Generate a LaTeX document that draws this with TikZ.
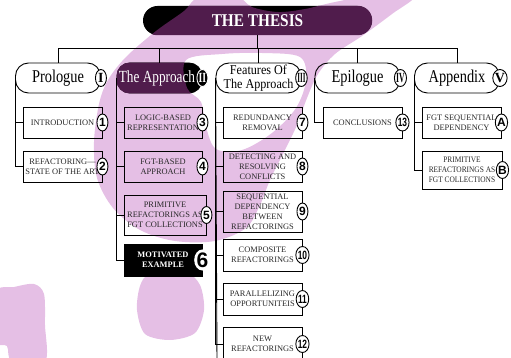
\documentclass[tikz,border=0pt]{standalone}
\usepackage{graphicx}
\usepackage{fontspec}
\setmainfont{Liberation Serif}
\newfontfamily\sansfam{Liberation Sans}
\usetikzlibrary{shapes.geometric}

\definecolor{brush}{RGB}{229,191,229}
\definecolor{plum}{RGB}{80,28,76}
\definecolor{ink}{RGB}{40,40,40}

\newcommand\leaffont{\fontsize{8.4}{10}\selectfont}
\newcommand\badgefont{\sansfam\bfseries\fontsize{12}{12}\selectfont}
\newcommand\romanfont{\bfseries\fontsize{14}{14}\selectfont}
\newcommand\headfont{\fontsize{18}{18}\selectfont}
\newcommand\sq[1]{\scalebox{0.7}[1]{#1}}
\newcommand\narrow[2]{\scalebox{#1}[1]{#2}}

% the big brush loop, with its hole
\newcommand\brushloop{plot[smooth cycle, tension=0.55] coordinates {
  (200,-4) (236,-4) (252,7) (278,12) (305,9) (335,2) (370,-4) (414,-4)
  (392,14) (362,36) (335,54) (318,74) (307,98) (297,125) (284,152)
  (270,180) (260,205) (246,228) (215,241) (175,241) (140,230) (113,208)
  (97,178) (94,142) (99,104) (108,80) (126,57) (156,31) (184,11)}
  plot[smooth cycle, tension=0.55] coordinates {
  (186,60) (222,54) (262,53) (300,57) (306,80) (296,108) (272,133)
  (242,150) (216,149) (206,127) (201,102) (187,88)}}

\tikzset{
  link/.style={draw=black, line width=0.9pt},
  head/.style={draw=black, line width=0.9pt, rounded corners=13pt,
    minimum width=85pt, minimum height=30pt, inner sep=0pt, font=\headfont},
  leaf/.style={draw=black, line width=0.9pt, inner sep=0pt,
    minimum width=79pt, minimum height=31pt, text=ink, align=center, font=\leaffont},
  badge/.style={ellipse, draw=black, line width=0.9pt, fill=white,
    minimum width=11pt, minimum height=17pt, inner sep=0pt, font=\badgefont},
  roman/.style={badge, font=\romanfont},
}

\begin{document}
\begin{tikzpicture}[x=1pt,y=-1pt]
\useasboundingbox (0,0) rectangle (511,358);
\clip (0,0) rectangle (511,358);

% brush strokes behind the chart
\fill[brush, even odd rule] \brushloop;
\fill[brush] plot[smooth cycle] coordinates {
  (150,274) (185,272) (200,285) (204,310) (195,333) (170,340)
  (145,334) (137,310) (140,286)};
\fill[brush] plot[smooth cycle] coordinates {
  (-4,292) (14,287) (34,284) (44,294) (45,325) (45,362) (12,362) (7,346) (-4,341)};

% root bar
\node[fill=black, rounded corners=14.5pt, minimum width=229pt, minimum height=29pt,
  inner sep=0pt] (thesis) at (257.5,20.5) {};
\begin{scope}
  \clip[rounded corners=14.5pt] (thesis.south west) rectangle (thesis.north east);
  \fill[plum, even odd rule] \brushloop;
\end{scope}
\node[text=white, font=\bfseries\fontsize{18}{18}\selectfont] (thesisText) at (thesis)
  {\narrow{0.85}{THE THESIS}};

% section headers
\node[head] (hP) at (58,78) {\narrow{0.8}{Prologue}};
\node[head, fill=black] (hA) at (159.5,78) {};
\begin{scope}
  \clip[rounded corners=13pt] (hA.south west) rectangle (hA.north east);
  \fill[plum, even odd rule] \brushloop;
\end{scope}
\node[text=white, font=\fontsize{17}{17}\selectfont, inner sep=0pt] (hAtext) at (157,78)
  {\narrow{0.78}{The Approach}};
\node[head] (hF) at (258.5,78)
  {\narrow{0.9}{\parbox{80pt}{\centering\fontsize{13.5}{13.5}\selectfont Features Of\\The Approach}}};
\node[head] (hE) at (357.5,78) {\narrow{0.8}{Epilogue}};
\node[head] (hX) at (457,78) {\narrow{0.8}{Appendix}};

% bus from the root to the headers
\coordinate (busL) at (58,48);
\coordinate (busR) at (457,48);
\draw[link] (busL) -- (busR);
\draw[link] (thesis.south) -- (thesis.south |- busL);
\foreach \h in {hP,hA,hF,hE,hX} \draw[link] (\h.north) -- (\h.north |- busL);

% Prologue
\node[leaf] (b1) at (62.5,122.5) {INTRODUCTION};
\node[leaf] (b2) at (62.5,166.5) {REFACTORING—\\STATE OF THE ART};
\draw[link] (hP.west) |- (b1.west);
\draw[link] (hP.west) |- (b2.west);

% The Approach
\node[leaf, minimum width=78pt] (b3) at (163,122.5) {LOGIC-BASED\\REPRESENTATION};
\node[leaf, minimum width=78pt] (b4) at (163,166.5) {FGT-BASED\\APPROACH};
\node[leaf, minimum width=82pt, minimum height=40pt] (b5) at (165,215)
  {PRIMITIVE\\REFACTORINGS AS\\FGT COLLECTIONS};
\node[leaf, minimum width=78pt, minimum height=32pt, fill=black, text=white,
  font=\leaffont\bfseries] (b6) at (163,260) {MOTIVATED\\EXAMPLE};
\foreach \b in {b3,b4,b5,b6} \draw[link] (hA.west) |- (\b.west);

% Features of the approach
\node[leaf] (b7) at (262.5,122.5) {REDUNDANCY\\REMOVAL};
\node[leaf] (b8) at (262.5,166.5) {DETECTING AND\\RESOLVING\\CONFLICTS};
\node[leaf, minimum height=41pt] (b9) at (262.5,211.5)
  {SEQUENTIAL\\DEPENDENCY\\BETWEEN\\REFACTORINGS};
\node[leaf, minimum height=32pt] (b10) at (262.5,255) {COMPOSITE\\REFACTORINGS};
\node[leaf, minimum height=32pt] (b11) at (262.5,299) {PARALLELIZING\\OPPORTUNITEIS};
\node[leaf, minimum height=34pt] (b12) at (262.5,344) {NEW\\REFACTORINGS};
\coordinate (fEnd) at (217,362);
\draw[link] (hF.west) -- (fEnd);
\foreach \b in {b7,b8,b9,b10,b11,b12} \draw[link] (hF.west) |- (\b.west);

% Epilogue
\node[leaf] (b13) at (362.5,122.5) {CONCLUSIONS};
\draw[link] (hE.west) |- (b13.west);

% Appendix
\node[leaf] (bA) at (461.5,122.5) {FGT SEQUENTIAL\\DEPENDENCY};
\node[leaf, minimum width=80pt, minimum height=38pt] (bB) at (462,170)
  {\narrow{0.88}{\parbox{80pt}{\centering PRIMITIVE\\REFACTORINGS AS\\FGT COLLECTIONS}}};
\draw[link] (hX.west) |- (bA.west);
\draw[link] (hX.west) |- (bB.west);

% roman numerals on the headers
\node[roman] (rI) at (hP.east) {I};
\node[roman, fill=black, draw=white, text=white] (rII) at (hA.east) {\sq{II}};
\node[roman] (rIII) at (hF.east) {\scalebox{0.5}[1]{III}};
\node[roman] (rIV) at (hE.east) {\scalebox{0.55}[1]{IV}};
\node[roman] (rV) at (hX.east) {V};

% numbered badges on the leaves
\node[badge] (n1) at (b1.east) {1};
\node[badge] (n2) at (b2.east) {2};
\node[badge] (n3) at (b3.east) {3};
\node[badge] (n4) at (b4.east) {4};
\node[badge] (n5) at (b5.east) {5};
\node[ellipse, fill=white, minimum width=12pt, minimum height=20pt, inner sep=0pt,
  font=\sansfam\bfseries\fontsize{21}{21}\selectfont] (n6) at (b6.east) {6};
\node[badge] (n7) at (b7.east) {7};
\node[badge] (n8) at (b8.east) {8};
\node[badge] (n9) at (b9.east) {9};
\node[badge] (n10) at (b10.east) {\sq{10}};
\node[badge] (n11) at (b11.east) {\sq{11}};
\node[badge] (n12) at (b12.east) {\sq{12}};
\node[badge] (n13) at (b13.east) {\sq{13}};
\node[badge] (nA) at (bA.east) {A};
\node[badge] (nB) at (bB.east) {B};
\end{tikzpicture}
\end{document}
